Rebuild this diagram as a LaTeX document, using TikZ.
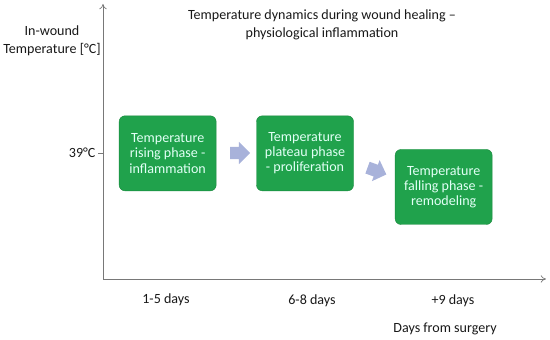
\documentclass[tikz,border=0pt]{standalone}
\usepackage{fontspec}
\setmainfont{Carlito}
\usetikzlibrary{arrows.meta,shapes.arrows}

\definecolor{phasegreen}{RGB}{32,162,76}
\definecolor{phaseedge}{RGB}{26,138,62}
\definecolor{phasetext}{RGB}{225,255,245}
\definecolor{stepblue}{RGB}{168,178,218}
\definecolor{axisgray}{RGB}{120,120,120}

\begin{document}
\begin{tikzpicture}[x=1cm,y=1cm]
\tikzset{
  phasebox/.style={rectangle,rounded corners=5pt,draw=phaseedge,fill=phasegreen,text=phasetext,
    minimum width=2.91cm,minimum height=2.25cm,align=center,inner sep=1pt,
    font=\fontsize{12}{13}\selectfont},
  steparrow/.style={single arrow,fill=stepblue,draw=none,minimum height=0.6cm,
    inner xsep=0.05cm,inner ysep=0.18cm,single arrow head extend=0.15cm},
  axisline/.style={-{To[length=1.6mm,width=2.2mm]},axisgray,line width=0.6pt},
  lbl/.style={font=\fontsize{12}{15.5}\selectfont,text=black!90,align=center,inner sep=0pt}
}
\useasboundingbox (0,0) rectangle (16.5,10.2);
\coordinate (c_O) at (3.09,1.83);
\coordinate (c_Ytip) at (3.09,10.08);
\coordinate (c_Xtip) at (16.38,1.83);
\coordinate (c_T39) at (2.94,5.61);
\coordinate (c_T39a) at (3.09,5.61);
\draw[axisline] (c_O) -- (c_Ytip);
\draw[axisline] (c_O) -- (c_Xtip);
\draw[axisgray,line width=0.6pt] (c_T39) -- (c_T39a);
\node[lbl,anchor=east] (l_39) at (2.87,5.61) {39°C};
\node[lbl] (l_yaxis) at (1.56,8.97) {In-wound\\Temperature [°C]};
\node[lbl] (l_title) at (9.66,9.45) {Temperature dynamics during wound healing –\\physiological inflammation};
\node[phasebox] (n_rise) at (5.03,5.60) {Temperature\\rising phase -\\inflammation};
\node[phasebox] (n_plateau) at (9.15,5.60) {Temperature\\plateau phase\\- proliferation};
\node[phasebox] (n_fall) at (13.31,4.59) {Temperature\\falling phase -\\remodeling};
\node[steparrow] (a_rise) at (7.11,5.61) {};
\node[steparrow,rotate=-20] (a_plateau) at (11.22,5.10) {};
\node[lbl] (l_d15) at (4.98,1.20) {1-5 days};
\node[lbl] (l_d68) at (9.36,1.17) {6-8 days};
\node[lbl] (l_d9) at (13.59,1.17) {+9 days};
\node[lbl] (l_xaxis) at (13.35,0.33) {Days from surgery};
\end{tikzpicture}
\end{document}
